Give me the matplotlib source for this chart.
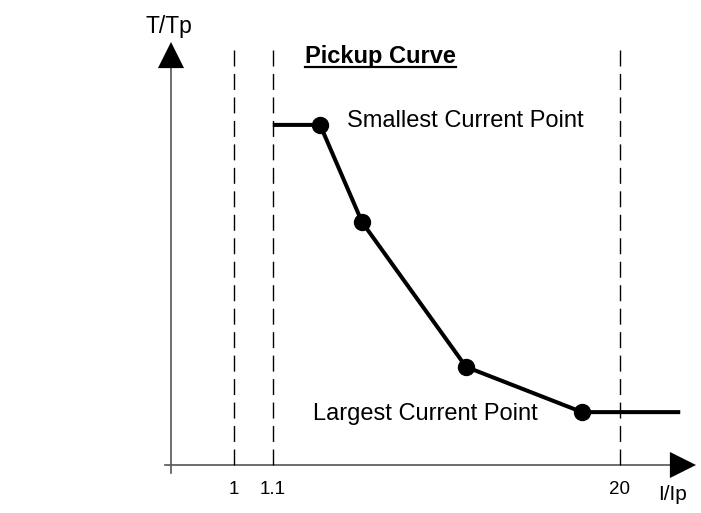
import matplotlib
matplotlib.use('Agg')
import matplotlib.pyplot as plt

plt.rcParams['font.family'] = ['Liberation Sans', 'DejaVu Sans']

# schematic units: axis origin = (0, 0), arrow tips at 100
curve_x = [19.4, 28.4, 36.4, 56.2, 78.3, 97.0]
curve_y = [80.4, 80.4, 57.4, 23.2, 12.5, 12.5]
point_idx = [1, 2, 3, 4]

guide_x = [12.0, 19.4, 85.5]
guide_top = 98.3
tick_labels = ['1', '1.1', '20']

fig = plt.figure(figsize=(7.01, 5.13), dpi=100)
ax = fig.add_axes([171 / 701, 48 / 513, 525 / 701, 423 / 513])
ax.set_xlim(0, 100)
ax.set_ylim(0, 100)
ax.axis('off')

# axes with arrow heads
ax.plot([0, 0], [-1.9, 95], color='#555555', lw=1.2, clip_on=False)
ax.plot([-1.1, 95.5], [0, 0], color='#555555', lw=1.2, clip_on=False)
head = dict(arrowstyle='-|>', mutation_scale=47, color='black', lw=0, shrinkA=0, shrinkB=0)
ax.annotate('', xy=(0, 100), xytext=(0, 95), arrowprops=head, annotation_clip=False)
ax.annotate('', xy=(100, 0), xytext=(95.5, 0), arrowprops=head, annotation_clip=False)

# dashed guides
for gx in guide_x:
    ax.plot([gx, gx], [0, guide_top], color='black', lw=1.0, dashes=(11.5, 5.4), clip_on=False)

# pickup curve
ax.plot(curve_x, curve_y, color='black', lw=2.9, solid_capstyle='butt', clip_on=False)
ax.plot([curve_x[i] for i in point_idx], [curve_y[i] for i in point_idx], 'o',
        color='black', ms=11.5, clip_on=False)

# labels
for gx, lab in zip(guide_x, tick_labels):
    ax.text(gx, -6.9, lab, ha='center', va='baseline', fontsize=13.5)
ax.text(-0.3, 102.1, 'T/Tp', ha='center', va='baseline', fontsize=16.5)
ax.text(92.8, -8.3, 'I/Ip', ha='left', va='baseline', fontsize=15)
ax.text(33.5, 79.9, 'Smallest Current Point', ha='left', va='baseline', fontsize=17)
ax.text(27.0, 10.6, 'Largest Current Point', ha='left', va='baseline', fontsize=17)
title = ax.text(25.5, 95.0, 'Pickup Curve', ha='left', va='baseline', fontsize=17, fontweight='bold')

# underline the title
fig.canvas.draw()
bb = title.get_window_extent().transformed(ax.transData.inverted())
ax.plot([bb.x0, bb.x1], [94.0, 94.0], color='black', lw=1.6, clip_on=False)

fig.savefig('out.png', dpi=100)
